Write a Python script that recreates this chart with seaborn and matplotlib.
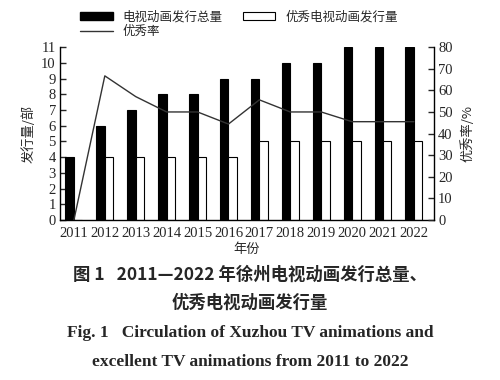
import matplotlib
matplotlib.use("Agg")
import matplotlib.pyplot as plt
import seaborn as sns
import pandas as pd
import numpy as np
from matplotlib.patches import Patch
from matplotlib.lines import Line2D

years = ["2011", "2012", "2013", "2014", "2015", "2016",
         "2017", "2018", "2019", "2020", "2021", "2022"]
total = [4, 6, 7, 8, 8, 9, 9, 10, 10, 11, 11, 11]
excellent = [0, 4, 4, 4, 4, 4, 5, 5, 5, 5, 5, 5]
rate = [0, 66.7, 57.1, 50.0, 50.0, 44.4, 55.6, 50.0, 50.0, 45.5, 45.5, 45.5]

lab_total = "电视动画发行总量"
lab_exc = "优秀电视动画发行量"
lab_rate = "优秀率"

sns.set_style("white")
CJK = ["Noto Sans CJK SC", "DejaVu Sans"]
SERIF = ["Liberation Serif", "Noto Sans CJK SC"]
plt.rcParams["font.family"] = SERIF

df = pd.DataFrame({
    "year": years * 2,
    "value": total + excellent,
    "series": [lab_total] * len(years) + [lab_exc] * len(years),
})

fig = plt.figure(figsize=(5, 3.8), dpi=100)
ax = fig.add_axes([0.12, 0.421, 0.748, 0.455])

sns.barplot(data=df, x="year", y="value", hue="series",
            palette=["black", "white"], edgecolor="black", linewidth=0.8,
            width=0.55, gap=0, ax=ax, legend=False)

ax2 = ax.twinx()
sns.pointplot(x=years, y=rate, ax=ax2, color="#333333", markers="",
              linewidth=1.0, errorbar=None)

ax.set_xlim(-0.45, 11.65)
ax2.set_xlim(-0.45, 11.65)
ax.set_ylim(0, 11)
ax2.set_ylim(0, 80)
ax.set_yticks(range(0, 12))
ax2.set_yticks(range(0, 81, 10))

for a in (ax, ax2):
    a.spines["top"].set_visible(False)
    for s in ("left", "right", "bottom"):
        a.spines[s].set_color("black")
        a.spines[s].set_linewidth(1.0)
ax.spines["right"].set_visible(False)
ax2.spines["left"].set_visible(False)
ax2.spines["bottom"].set_visible(False)

ax.tick_params(axis="y", direction="in", length=4, width=1, labelsize=10.5, pad=3)
ax2.tick_params(axis="y", direction="in", length=4, width=1, labelsize=10.5, pad=3)
ax.tick_params(axis="x", length=0, labelsize=10.5, pad=5)

ax.set_xlabel("年份", fontfamily=CJK, fontsize=9.5, labelpad=2)
ax.set_ylabel("发行量/部", fontfamily=CJK, fontsize=9.5, labelpad=4)
ax2.set_ylabel("优秀率/%", fontfamily=CJK, fontsize=9.5, labelpad=6)

handles = [Patch(facecolor="black", edgecolor="black"),
           Line2D([], [], color="#333333", linewidth=1.0),
           Patch(facecolor="white", edgecolor="black", linewidth=0.8)]
labels = [lab_total, lab_rate, lab_exc]
fig.legend(handles, labels, ncol=2, loc="upper left",
           bbox_to_anchor=(0.15, 0.985), frameon=False,
           prop={"family": CJK, "size": 9}, handlelength=2.6,
           handleheight=0.6, columnspacing=1.6, labelspacing=0.1,
           handletextpad=0.8, borderaxespad=0)

fig.text(0.5, 0.276, "图 1   2011—2022 年徐州电视动画发行总量、",
         ha="center", va="center", fontsize=12.5, fontweight="bold",
         fontfamily=CJK)
fig.text(0.5, 0.203, "优秀电视动画发行量", ha="center", va="center",
         fontsize=12.5, fontweight="bold", fontfamily=CJK)
fig.text(0.5, 0.124, "Fig. 1   Circulation of Xuzhou TV animations and",
         ha="center", va="center", fontsize=12.5, fontweight="bold",
         fontfamily=SERIF)
fig.text(0.5, 0.048, "excellent TV animations from 2011 to 2022",
         ha="center", va="center", fontsize=12.5, fontweight="bold",
         fontfamily=SERIF)

fig.savefig("out.png", dpi=100)
